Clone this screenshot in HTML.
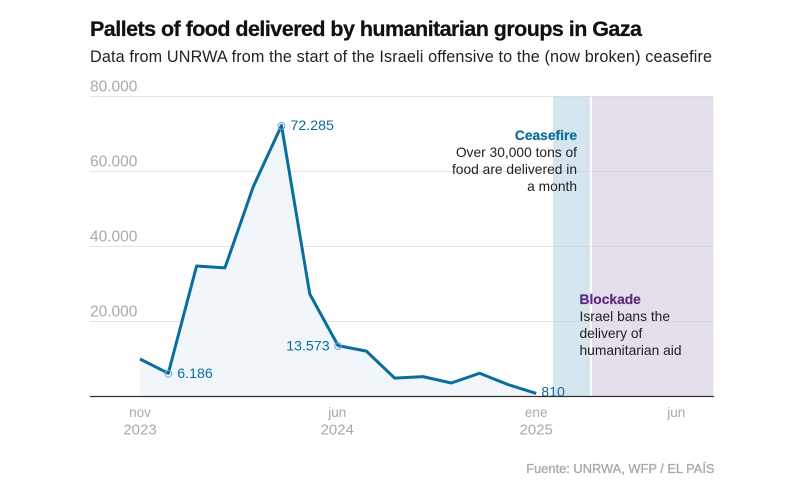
<!DOCTYPE html>
<html lang="en">
<head>
<meta charset="utf-8">
<title>Pallets of food delivered by humanitarian groups in Gaza</title>
<style>
html,body{margin:0;padding:0;background:#fff;width:795px;height:491px;overflow:hidden}
svg{display:block;font-family:"Liberation Sans",Arial,sans-serif}
</style>
</head>
<body>
<svg id="chart" width="795" height="491" viewBox="0 0 795 491" xmlns="http://www.w3.org/2000/svg">
  <rect width="795" height="491" fill="#fff"/>
  <text x="90" y="36" font-size="21.5" font-weight="700" fill="#111" stroke="#111" stroke-width="0.25" textLength="552" lengthAdjust="spacing">Pallets of food delivered by humanitarian groups in Gaza</text>
  <text x="90" y="62" font-size="16.2" fill="#222" textLength="622" lengthAdjust="spacing">Data from UNRWA from the start of the Israeli offensive to the (now broken) ceasefire</text>
  <g id="bands"></g>
  <g id="grid"></g>
  <g id="series"></g>
  <g id="xaxis"></g>
  <g font-size="13.8" text-anchor="end" fill="#222">
    <text x="577" y="140" font-weight="700" fill="#0b6d9e" stroke="#0b6d9e" stroke-width="0.2">Ceasefire</text>
    <text x="577" y="157">Over 30,000 tons of</text>
    <text x="577" y="174">food are delivered in</text>
    <text x="577" y="191">a month</text>
  </g>
  <g font-size="13.8" fill="#222">
    <text x="579.5" y="304" font-weight="700" fill="#5f2a82" stroke="#5f2a82" stroke-width="0.2">Blockade</text>
    <text x="579.5" y="321">Israel bans the</text>
    <text x="579.5" y="338">delivery of</text>
    <text x="579.5" y="355">humanitarian aid</text>
  </g>
  <text x="714.5" y="473" font-size="12.85" font-weight="400" fill="#a8a8a8" stroke="#a8a8a8" stroke-width="0.3" text-anchor="end">Fuente: UNRWA, WFP / EL PAÍS</text>
</svg>
<script>
// Months since November 2023 for each reading
var months = [0, 1, 2, 3, 4, 5, 6, 7, 8, 9, 10, 11, 12, 13, 14];
var pallets = [10000, 6186, 34800, 34300, 55900, 72285, 27300, 13573, 12100, 4900, 5300, 3600, 6200, 3200, 810];
var yTicks = [20000, 40000, 60000, 80000];
var yTickLabels = ['20.000', '40.000', '60.000', '80.000'];
var xTickMonths = [0, 6.97, 14, 18.95];
var xTickLabels = ['nov', 'jun', 'ene', 'jun'];
var xTickYears = ['2023', '2024', '2025', ''];
var markedMonths = [1, 5, 7];
var endLabelMonth = 14;
var ceasefirePeriod = [14.59, 15.9];
var blockadePeriod = [15.97, 20.26];

var NS = 'http://www.w3.org/2000/svg';
function xScale(m) { return 140 + m * 28.3; }
function yScale(v) { return 396.5 - v * 0.00375; }
function fmt(v) { return String(Math.round(v)).replace(/\B(?=(\d{3})+$)/g, '.'); }
function make(tag, parent, attrs, text) {
  var el = document.createElementNS(NS, tag);
  for (var k in attrs) el.setAttribute(k, attrs[k]);
  if (text !== undefined) el.textContent = text;
  parent.appendChild(el);
  return el;
}
var bands = document.getElementById('bands');
var grid = document.getElementById('grid');
var series = document.getElementById('series');
var xaxis = document.getElementById('xaxis');

var bandTop = yScale(80000);
var bandH = yScale(0) - bandTop;
var cf = make('rect', bands, {x: xScale(ceasefirePeriod[0]), y: bandTop, width: xScale(ceasefirePeriod[1]) - xScale(ceasefirePeriod[0]), height: bandH, fill: '#d5e6ef'});


var bl = make('rect', bands, {x: xScale(blockadePeriod[0]), y: bandTop, width: xScale(blockadePeriod[1]) - xScale(blockadePeriod[0]), height: bandH, fill: '#e5deeb'});



yTicks.forEach(function (t, i) {
  var ln = make('line', grid, {x1: 90, x2: 714, y1: yScale(t), y2: yScale(t), stroke: '#c9c9c9', 'stroke-opacity': 0.5, 'stroke-width': 1});
  
  
  var lb = make('text', grid, {x: 90, y: yScale(t) - 4.8, 'font-size': 15.5, fill: '#a9a9a9'}, yTickLabels[i]);
  
  
});

var linePts = months.map(function (m, i) { return xScale(m) + ',' + yScale(pallets[i]); });
var areaPts = [xScale(months[0]) + ',' + yScale(0)].concat(linePts, [xScale(months[months.length - 1]) + ',' + yScale(0)]);
var area = make('polygon', series, {points: areaPts.join(' '), fill: '#f0f6fa'});


var line = make('polyline', series, {points: linePts.join(' '), fill: 'none', stroke: '#0b6d9e', 'stroke-width': 3, 'stroke-linejoin': 'round'});



markedMonths.forEach(function (m) {
  var i = months.indexOf(m);
  var cx = xScale(m), cy = yScale(pallets[i]);
  var c = make('circle', series, {cx: cx, cy: cy + 0.5, r: 3.4, fill: 'none', stroke: '#6fa9c8', 'stroke-width': 1});
  
  
  var left = m === 7;
  var t = make('text', series, {x: left ? cx - 8.5 : cx + 9, y: cy + 4.7, 'font-size': 14.2, fill: '#0b6d9e', 'text-anchor': left ? 'end' : 'start'}, fmt(pallets[i]));
  
  
});
var endIdx = months.indexOf(endLabelMonth);
var endLabel = make('text', series, {x: xScale(endLabelMonth) + 5, y: yScale(pallets[endIdx]) + 3.2, 'font-size': 14.2, fill: '#0b6d9e'}, fmt(pallets[endIdx]));



var base = make('line', xaxis, {x1: 90, x2: 714, y1: yScale(0), y2: yScale(0), stroke: '#333', 'stroke-width': 1.2});


xTickMonths.forEach(function (m, i) {
  var a = make('text', xaxis, {x: xScale(m), y: 417, 'font-size': 13.5, fill: '#a9a9a9', 'text-anchor': 'middle'}, xTickLabels[i]);
  
  
  if (xTickYears[i]) {
    var b = make('text', xaxis, {x: xScale(m), y: 434.5, 'font-size': 15, fill: '#a9a9a9', 'text-anchor': 'middle'}, xTickYears[i]);
    
    
  }
});
</script>
</body>
</html>
